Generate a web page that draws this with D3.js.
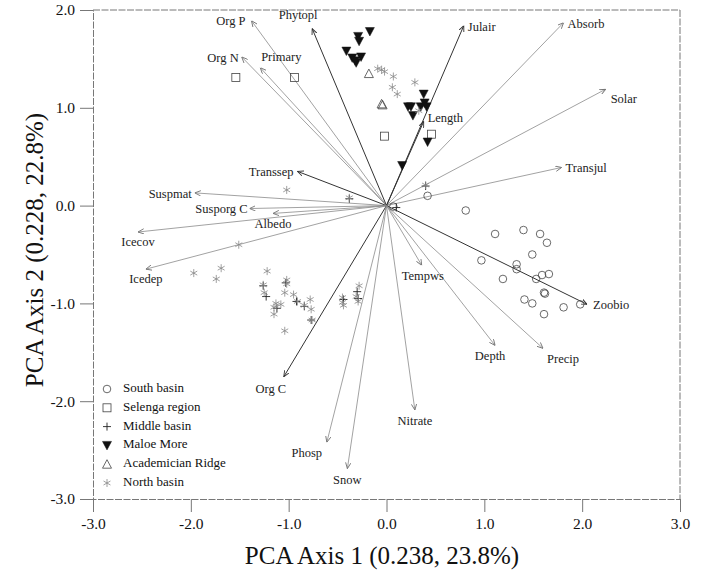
<!DOCTYPE html>
<html>
<head>
<meta charset="utf-8">
<script src="https://cdn.jsdelivr.net/npm/d3@7"></script>
<style>
  body { margin: 0; background: #fff; }
  svg { font-family: "Liberation Serif", "Times New Roman", serif; }
</style>
</head>
<body>
<div id="viz"></div>
<script>
const width = 704;
const height = 571;
const margin = {top: 10, right: 24, bottom: 72, left: 93};

// Environmental vectors (PCA loadings)
const vecNames = ['Org P', 'Phytopl', 'Org N', 'Primary', 'Julair', 'Absorb', 'Solar', 'Length',
  'Transjul', 'Transsep', 'Suspmat', 'Susporg C', 'Albedo', 'Icecov', 'Icedep', 'Tempws',
  'Zoobio', 'Depth', 'Precip', 'Org C', 'Nitrate', 'Phosp', 'Snow'];
const vecX = [-1.38, -0.76, -1.48, -1.29, 0.79, 1.81, 2.24, 0.38,
  1.79, -0.91, -1.96, -1.40, -1.16, -2.54, -2.46, 0.36,
  2.05, 1.11, 1.60, -1.05, 0.29, -0.61, -0.40];
const vecY = [1.89, 1.81, 1.52, 1.41, 1.84, 1.87, 1.19, 0.86,
  0.39, 0.35, 0.13, -0.03, -0.08, -0.27, -0.65, -0.61,
  -1.01, -1.43, -1.46, -1.75, -2.09, -2.42, -2.69];

// Sample scores by region
const southX = [0.42, 0.81, 1.11, 1.40, 1.57, 1.64, 1.49, 0.97, 1.33, 1.33, 1.19, 1.53, 1.59, 1.66, 1.61, 1.62, 1.41, 1.49, 1.61, 1.81, 1.98, 0.07];
const southY = [0.10, -0.05, -0.29, -0.25, -0.29, -0.38, -0.50, -0.56, -0.60, -0.65, -0.75, -0.75, -0.71, -0.70, -0.89, -0.90, -0.96, -1.00, -1.11, -1.04, -1.01, -0.01];
const selengaX = [-1.54, -0.94, -0.02, 0.46];
const selengaY = [1.31, 1.31, 0.71, 0.73];
const middleX = [-0.38, -1.26, -1.23, -1.03, -0.92, -0.84, -0.77, -1.12, -0.44, -0.30, -0.29, 0.10, 0.40];
const middleY = [0.07, -0.82, -0.93, -0.79, -0.98, -1.03, -1.17, -1.05, -0.96, -0.88, -0.95, -0.02, 0.20];
const maloeX = [-0.17, -0.29, -0.28, -0.41, -0.35, -0.31, -0.26, -0.32, 0.38, 0.22, 0.25, 0.27, 0.35, 0.39, 0.41, 0.42, 0.16];
const maloeY = [1.78, 1.73, 1.68, 1.58, 1.51, 1.46, 1.52, 1.48, 1.14, 1.01, 1.01, 0.92, 1.01, 1.05, 1.01, 0.65, 0.41];
const ridgeX = [-0.18, -0.05, -0.04];
const ridgeY = [1.35, 1.04, 1.03];
const northX = [-0.09, -0.05, -0.02, 0.07, 0.06, 0.11, 0.29, 0.33,
  -1.02, 0.40, -0.38, -1.51, -1.97, -1.69, -1.74, -1.22, -1.26, -1.25, -1.02, -1.02, -1.04, -0.95,
  -1.13, -1.08, -1.15, -1.15, -0.91, -0.84, -0.78, -0.77, -0.76, -1.04, -0.45, -0.45, -0.44, -0.28, -0.31, -0.29];
const northY = [1.40, 1.39, 1.37, 1.32, 1.21, 1.14, 1.26, 0.97,
  0.16, 0.21, 0.08, -0.40, -0.69, -0.64, -0.75, -0.67, -0.81, -0.89, -0.76, -0.80, -0.89, -0.91,
  -1.00, -1.01, -1.04, -1.11, -0.98, -1.02, -0.96, -1.06, -1.17, -1.28, -0.94, -0.99, -1.02, -0.82, -0.93, -0.98];

const xTicks = [-3, -2, -1, 0, 1, 2, 3];
const yTicks = [-3, -2, -1, 0, 1, 2];
const legendLabels = ['South basin', 'Selenga region', 'Middle basin', 'Maloe More', 'Academician Ridge', 'North basin'];

// label placement next to each arrow tip: [dx, dy, anchor]
const labelPlace = {
  'Org P': [-6, 1, 'end'], 'Phytopl': [-14, -12, 'middle'], 'Org N': [-3, 2, 'end'],
  'Primary': [21, -10, 'middle'], 'Julair': [4, 2, 'start'], 'Absorb': [4, 2, 'start'],
  'Solar': [5, 11, 'start'], 'Length': [4, -2, 'start'], 'Transjul': [4, 2, 'start'],
  'Transsep': [-4, 2, 'end'], 'Suspmat': [-3, 2, 'end'], 'Susporg C': [-2, 2, 'end'],
  'Albedo': [0, 12, 'middle'], 'Icecov': [0, 11, 'middle'], 'Icedep': [0, 11, 'middle'],
  'Tempws': [1, 12, 'middle'], 'Zoobio': [6, 2, 'start'], 'Depth': [-5, 12, 'middle'],
  'Precip': [20, 12, 'middle'], 'Org C': [-13, 13, 'middle'], 'Nitrate': [0, 12, 'middle'],
  'Phosp': [-20, 12, 'middle'], 'Snow': [0, 12, 'middle']
};
const darkVecs = ['Phytopl', 'Julair', 'Length', 'Zoobio', 'Org C', 'Transsep'];

const svg = d3.select('#viz').append('svg')
  .attr('width', width)
  .attr('height', height);

const x = d3.scaleLinear().domain([-3, 3]).range([margin.left, width - margin.right]);
const y = d3.scaleLinear().domain([-3, 2]).range([height - margin.bottom, margin.top]);

// frame
const frameColor = '#777';
const frame = svg.append('g').attr('stroke', frameColor).attr('stroke-width', 1).attr('fill', 'none')
  .attr('stroke-dasharray', '7,1.5');
frame.append('line').attr('x1', x(-3)).attr('x2', x(3)).attr('y1', y(2)).attr('y2', y(2));
frame.append('line').attr('x1', x(3)).attr('x2', x(3)).attr('y1', y(2)).attr('y2', y(-3));

// axes
const xAxis = d3.axisBottom(x).tickValues(xTicks).tickFormat(d3.format('.1f')).tickSize(13).tickPadding(6);
const yAxis = d3.axisLeft(y).tickValues(yTicks).tickFormat(d3.format('.1f')).tickSize(13).tickPadding(5);
const gx = svg.append('g').attr('transform', `translate(0,${y(-3)})`).call(xAxis);
const gy = svg.append('g').attr('transform', `translate(${x(-3)},0)`).call(yAxis);
[gx, gy].forEach(g => {
  g.select('.domain').attr('stroke', frameColor).attr('stroke-dasharray', '7,1.5');
  g.selectAll('.tick line').attr('stroke', frameColor);
  g.selectAll('.tick text').attr('font-size', 15.5).attr('fill', '#111')
    .attr('font-family', '"Liberation Serif", serif')
    .text(d => d3.format('.1f')(d).replace('−', '-'));
});

svg.append('text')
  .attr('x', 382).attr('y', 564)
  .attr('text-anchor', 'middle')
  .attr('font-size', 25).attr('fill', '#111')
  .text('PCA Axis 1 (0.238, 23.8%)');
svg.append('text')
  .attr('transform', 'translate(43,250) rotate(-90)')
  .attr('text-anchor', 'middle')
  .attr('font-size', 25).attr('fill', '#111')
  .text('PCA Axis 2 (0.228, 22.8%)');

// arrowhead markers
const defs = svg.append('defs');
[['arrLight', '#777'], ['arrDark', '#333']].forEach(([id, c]) => {
  defs.append('marker').attr('id', id)
    .attr('viewBox', '0 -4 8 8').attr('refX', 8).attr('refY', 0)
    .attr('markerWidth', 6).attr('markerHeight', 6).attr('markerUnits', 'userSpaceOnUse')
    .attr('orient', 'auto')
    .append('path').attr('d', 'M0,-3.5L8,0L0,3.5').attr('fill', 'none').attr('stroke', c).attr('stroke-width', 1.2);
});

const vecData = vecNames.map((n, i) => ({name: n, x: vecX[i], y: vecY[i], dark: darkVecs.includes(n)}));

const vg = svg.append('g');
vg.selectAll('line').data(vecData).join('line')
  .attr('x1', x(0)).attr('y1', y(0))
  .attr('x2', d => x(d.x)).attr('y2', d => y(d.y))
  .attr('stroke', d => d.dark ? '#333' : '#8a8a8a')
  .attr('stroke-width', d => d.dark ? 1 : 0.8)
  .attr('marker-end', d => d.dark ? 'url(#arrDark)' : 'url(#arrLight)');

vg.selectAll('text').data(vecData).join('text')
  .attr('x', d => x(d.x) + labelPlace[d.name][0])
  .attr('y', d => y(d.y) + labelPlace[d.name][1])
  .attr('text-anchor', d => labelPlace[d.name][2])
  .attr('dominant-baseline', 'middle')
  .attr('font-size', 12.5).attr('fill', '#222')
  .text(d => d.name);

// symbols
const s = 4;
const shapes = {
  circle: g => g.append('circle').attr('r', 3.8).attr('fill', 'none').attr('stroke', '#444').attr('stroke-width', 0.8),
  square: g => g.append('rect').attr('x', -4).attr('y', -4).attr('width', 8).attr('height', 8)
    .attr('fill', 'none').attr('stroke', '#444').attr('stroke-width', 0.8),
  plus: g => g.append('path').attr('d', `M${-s},0H${s}M0,${-s}V${s}`).attr('stroke', '#222').attr('stroke-width', 0.9).attr('fill', 'none'),
  tridown: g => g.append('path').attr('d', 'M-4.5,-4L4.5,-4L0,4.5Z').attr('fill', '#111').attr('stroke', '#111').attr('stroke-width', 0.5),
  triup: g => g.append('path').attr('d', 'M-4.5,4L4.5,4L0,-4.5Z').attr('fill', 'none').attr('stroke', '#444').attr('stroke-width', 0.8),
  aster: g => g.append('path').attr('d', `M0,${-s}V${s}M${-s*0.87},${-s*0.5}L${s*0.87},${s*0.5}M${-s*0.87},${s*0.5}L${s*0.87},${-s*0.5}`)
    .attr('stroke', '#888').attr('stroke-width', 0.8).attr('fill', 'none')
};

const groups = [
  {xs: southX, ys: southY, shape: 'circle'},
  {xs: selengaX, ys: selengaY, shape: 'square'},
  {xs: middleX, ys: middleY, shape: 'plus'},
  {xs: maloeX, ys: maloeY, shape: 'tridown'},
  {xs: ridgeX, ys: ridgeY, shape: 'triup'},
  {xs: northX, ys: northY, shape: 'aster'}
];
const legendShapes = ['circle', 'square', 'plus', 'tridown', 'triup', 'aster'];

const pg = svg.append('g');
groups.forEach(gr => {
  gr.xs.forEach((v, i) => {
    const g = pg.append('g').attr('transform', `translate(${x(v)},${y(gr.ys[i])})`);
    shapes[gr.shape](g);
  });
});

// legend
const lg = svg.append('g').attr('transform', 'translate(107,389)');
legendLabels.forEach((lab, i) => {
  const row = lg.append('g').attr('transform', `translate(0,${i * 18.8})`);
  shapes[legendShapes[i]](row);
  row.append('text').attr('x', 16).attr('y', 0).attr('dominant-baseline', 'middle')
    .attr('font-size', 13).attr('fill', '#111').text(lab);
});
</script>
</body>
</html>
